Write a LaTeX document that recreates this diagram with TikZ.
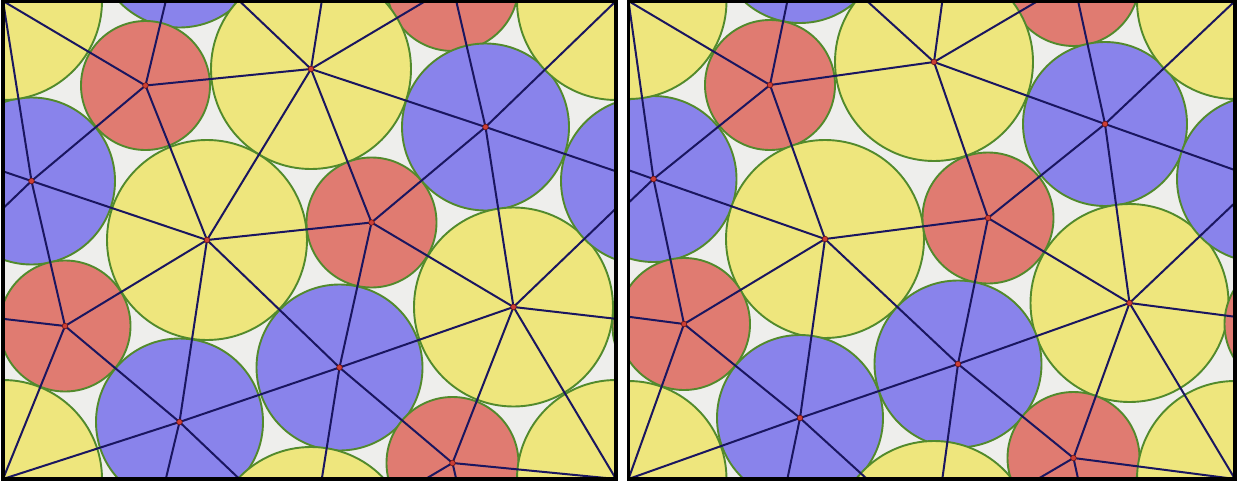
\documentclass[tikz,border=0pt]{standalone}
\usetikzlibrary{calc}
\definecolor{cyel}{RGB}{238,230,125}
\definecolor{cred}{RGB}{224,123,113}
\definecolor{cblu}{RGB}{137,131,235}
\definecolor{cgap}{RGB}{238,238,236}
\definecolor{cgrn}{RGB}{82,138,44}
\definecolor{cnavy}{RGB}{26,22,96}
\definecolor{cdot}{RGB}{205,62,52}
\definecolor{cdotb}{RGB}{110,20,20}
\tikzset{
  circ/.style={draw=cgrn,line width=1.9pt},
  edgeline/.style={draw=cnavy,line width=2pt},
  vdot/.style={fill=cdot,draw=cdotb,line width=0.6pt},
  frame/.style={draw=black,line width=3.5pt}
}
\begin{document}
\begin{tikzpicture}[x=1pt,y=-1pt]
\useasboundingbox (0,0) rectangle (1239,482);
\fill[white] (0,0) rectangle (1239,482);
% ---------------- panel 1 ----------------
\coordinate (pA) at (145.5,85.5);
\coordinate (pB) at (311,69);
\coordinate (pC) at (485.5,127);
\coordinate (pD) at (31.5,181);
\coordinate (pE) at (207,240);
\coordinate (pF) at (371.5,222.5);
\coordinate (pG) at (513.5,307);
\coordinate (pH) at (65,326);
\coordinate (pI) at (339.5,367.5);
\coordinate (pJ) at (179.5,422);
\coordinate (pK) at (452.5,463);
\coordinate (pL) at (3,1);
\begin{scope}
\clip (3,1) rectangle (616,479);
\fill[cgap] (3,1) rectangle (616,479);
\foreach \sx in {-1,0,1}{\foreach \sy in {-1,0,1}{
  \foreach \v/\r/\c in {A/64.5/cred,B/100/cyel,C/83.5/cblu,D/83.5/cblu,E/100/cyel,F/65/cred,G/99.5/cyel,H/65.5/cred,I/83/cblu,J/83.5/cblu,K/66/cred,L/99/cyel}{
    \filldraw[circ,fill=\c] ([shift={(\sx*613,\sy*478)}]p\v) circle[radius=\r pt];
  }
}}
\foreach \sx in {-1,0,1}{\foreach \sy in {-1,0,1}{
  \foreach \u/\w/\i/\j in {A/B/0/0,A/E/0/0,A/D/0/0,A/L/0/0,A/J/0/-1,B/J/0/-1,B/I/0/-1,B/K/0/-1,B/C/0/0,B/F/0/0,B/E/0/0,C/K/0/-1,C/L/1/0,C/D/1/0,C/G/0/0,C/F/0/0,D/L/0/0,D/E/0/0,D/H/0/0,D/G/-1/0,E/F/0/0,E/I/0/0,E/J/0/0,E/H/0/0,F/G/0/0,F/I/0/0,G/I/0/0,G/K/0/0,G/H/1/0,G/L/1/1,H/J/0/0,H/L/0/1,I/J/0/0,I/K/0/0,J/L/0/1,K/L/1/1}{
    \draw[edgeline] ([shift={(\sx*613,\sy*478)}]p\u) -- ([shift={(\sx*613+\i*613,\sy*478+\j*478)}]p\w);
  }
}}
\foreach \v in {A,B,C,D,E,F,G,H,I,J,K}{\filldraw[vdot] (p\v) circle[radius=2.8pt];}
\end{scope}
\draw[frame] (3,1) rectangle (616,479);
% ---------------- panel 2 ----------------
\coordinate (qA) at (770,85);
\coordinate (qB) at (934,62);
\coordinate (qC) at (1105,124);
\coordinate (qD) at (653.5,179);
\coordinate (qE) at (825,239);
\coordinate (qF) at (988,218);
\coordinate (qG) at (1129.5,303);
\coordinate (qH) at (684,324);
\coordinate (qI) at (958,364);
\coordinate (qJ) at (800,418);
\coordinate (qK) at (1073.5,458);
\coordinate (qL) at (628.5,1);
\begin{scope}
\clip (628.5,1) rectangle (1235,479);
\fill[cgap] (628.5,1) rectangle (1235,479);
\foreach \sx in {-1,0,1}{\foreach \sy in {-1,0,1}{
  \foreach \v/\r/\c in {A/65/cred,B/99/cyel,C/82/cblu,D/83/cblu,E/99/cyel,F/65.5/cred,G/99/cyel,H/66/cred,I/83.5/cblu,J/83/cblu,K/66/cred,L/98/cyel}{
    \filldraw[circ,fill=\c] ([shift={(\sx*606.5,\sy*478)}]q\v) circle[radius=\r pt];
  }
}}
\foreach \sx in {-1,0,1}{\foreach \sy in {-1,0,1}{
  \foreach \u/\w/\i/\j in {A/B/0/0,A/E/0/0,A/D/0/0,A/L/0/0,A/J/0/-1,B/J/0/-1,B/I/0/-1,B/K/0/-1,B/C/0/0,B/F/0/0,C/K/0/-1,C/L/1/0,C/D/1/0,C/G/0/0,C/F/0/0,D/L/0/0,D/E/0/0,D/H/0/0,D/G/-1/0,E/F/0/0,E/I/0/0,E/J/0/0,E/H/0/0,F/G/0/0,F/I/0/0,G/I/0/0,G/K/0/0,G/H/1/0,G/L/1/1,H/J/0/0,H/L/0/1,I/J/0/0,I/K/0/0,J/L/0/1,K/L/1/1}{
    \draw[edgeline] ([shift={(\sx*606.5,\sy*478)}]q\u) -- ([shift={(\sx*606.5+\i*606.5,\sy*478+\j*478)}]q\w);
  }
}}
\foreach \v in {A,B,C,D,E,F,G,H,I,J,K}{\filldraw[vdot] (q\v) circle[radius=2.8pt];}
\end{scope}
\draw[frame] (628.5,1) rectangle (1235,479);
\end{tikzpicture}
\end{document}
